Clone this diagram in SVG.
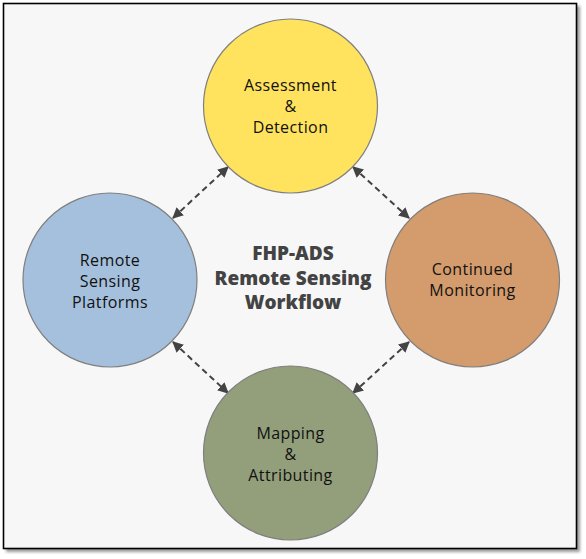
<svg xmlns="http://www.w3.org/2000/svg" width="586" height="559" viewBox="0 0 586 559">
<defs>
<style>
.node{stroke:#7f7f7f;stroke-width:1.2}
.lbl{font-family:"Open Sans","Liberation Sans",sans-serif;font-size:16px;font-weight:500;fill:#111111;text-anchor:middle;letter-spacing:0.4px}
.title{font-family:"Open Sans","Liberation Sans",sans-serif;font-size:19px;font-weight:800;fill:#434343;text-anchor:middle}
.conn{stroke:#434343;stroke-width:2;stroke-dasharray:6,4;fill:none;marker-start:url(#ah);marker-end:url(#ah)}
</style>
<marker id="ah" viewBox="0 0 10 10" refX="9" refY="5" markerWidth="5.5" markerHeight="5.5" orient="auto-start-reverse" markerUnits="strokeWidth">
<path d="M0,0 L10,5 L0,10 z" fill="#434343"/>
</marker>
<filter id="sh" x="-5%" y="-5%" width="110%" height="110%">
<feGaussianBlur stdDeviation="1.5"/>
</filter>
</defs>
<rect x="0" y="0" width="586" height="559" fill="#ffffff"/>
<rect x="6" y="6" width="574" height="546" fill="#9a9a9a" filter="url(#sh)"/>
<rect x="3.5" y="3.5" width="573" height="545" fill="#f7f7f7" stroke="#000000" stroke-width="1.6"/>
<g id="connectors">
<line class="conn" x1="173" y1="218" x2="228" y2="167"/>
<line class="conn" x1="353" y1="167" x2="409" y2="218"/>
<line class="conn" x1="173" y1="342" x2="228" y2="393"/>
<line class="conn" x1="409" y1="342" x2="353" y2="393"/>
</g>
<g id="node-assessment">
<circle class="node" cx="290.5" cy="106" r="87" fill="#ffe35f"/>
<text class="lbl" x="290.5" y="91">Assessment</text>
<text class="lbl" x="290.5" y="112">&amp;</text>
<text class="lbl" x="290.5" y="133">Detection</text>
</g>
<g id="node-platforms">
<circle class="node" cx="110" cy="280" r="87" fill="#a5c0dc"/>
<text class="lbl" x="110" y="266">Remote</text>
<text class="lbl" x="110" y="287">Sensing</text>
<text class="lbl" x="110" y="308">Platforms</text>
</g>
<g id="node-monitoring">
<circle class="node" cx="472.5" cy="280" r="87" fill="#d49b6c"/>
<text class="lbl" x="472.5" y="275">Continued</text>
<text class="lbl" x="472.5" y="296">Monitoring</text>
</g>
<g id="node-mapping">
<circle class="node" cx="290.5" cy="453" r="87" fill="#939f7b"/>
<text class="lbl" x="290.5" y="439">Mapping</text>
<text class="lbl" x="290.5" y="460">&amp;</text>
<text class="lbl" x="290.5" y="481">Attributing</text>
</g>
<g id="title">
<text class="title" x="293" y="260">FHP-ADS</text>
<text class="title" x="293" y="285">Remote Sensing</text>
<text class="title" x="293" y="309">Workflow</text>
</g>
</svg>
